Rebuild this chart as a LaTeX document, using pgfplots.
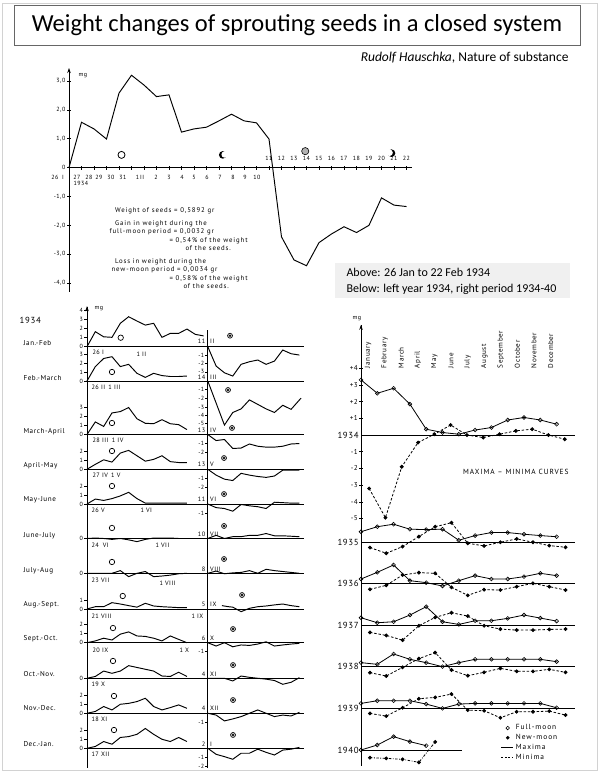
\documentclass[border=0pt]{standalone}
\usepackage{pgfplots}
\pgfplotsset{compat=1.18}
\usepackage{fontspec}
\setmainfont{Carlito}
\newfontfamily\scan[LetterSpace=8]{PT Sans}
\newfontfamily\scanw[LetterSpace=13]{PT Sans}
\usetikzlibrary{arrows.meta}
\newcommand\tl{\scan\fontsize{6}{7}\selectfont}
\newcommand\sm{\scanw\fontsize{6.8}{7.5}\selectfont}
\newcommand\rl{\scan\fontsize{7.1}{8}\selectfont}
\newcommand\nlbl{\scan\fontsize{6.3}{7}\selectfont}
\newcommand\lgdf{\scanw\fontsize{7.4}{8}\selectfont}
\newcommand\yr{\scan\fontsize{8.8}{9}\selectfont}
\pgfdeclareplotmark{crescL}{%
  \pgfpathcircle{\pgfpointorigin}{\pgfplotmarksize}\pgfusepathqfill
  \begin{pgfscope}\pgfsetfillcolor{white}%
  \pgfpathcircle{\pgfpoint{0.5\pgfplotmarksize}{0.1\pgfplotmarksize}}{0.85\pgfplotmarksize}\pgfusepathqfill
  \end{pgfscope}}
\pgfdeclareplotmark{crescR}{%
  \pgfpathcircle{\pgfpointorigin}{\pgfplotmarksize}\pgfusepathqfill
  \begin{pgfscope}\pgfsetfillcolor{white}%
  \pgfpathcircle{\pgfpoint{-0.5\pgfplotmarksize}{0.1\pgfplotmarksize}}{0.85\pgfplotmarksize}\pgfusepathqfill
  \end{pgfscope}}
\pgfplotsset{curve/.style={black, line width=0.95pt, mark=none},
  maxc/.style={black, line width=0.8pt, mark=o, mark size=1.9pt, mark options={solid, fill=white, line width=0.6pt}},
  minc/.style={black, line width=0.8pt, dash pattern=on 2.5pt off 1.8pt, mark=*, mark size=1.5pt, mark options={solid}}}
\newcommand\rt[2]{\draw[line width=0.6pt] (axis cs:14.5,#1) -- ++(-2.5pt,0pt) node[left,inner sep=0.8pt,font=\tl]{#2};}
\newcommand\hl[2]{\draw[line width=0.9pt] (axis cs:0,#1) -- (axis cs:#2,#1);}
\newcommand\mo[2]{\node[rotate=90, anchor=west, font=\rl, inner sep=0pt] at (axis cs:#1,4.0) {#2};}
\begin{document}
\begin{tikzpicture}
\begin{scope}[x=1pt,y=1pt]
\fill[white] (0,0) rectangle (600,776);
\draw[gray!35, line width=0.8pt] (2,6) rectangle (597,773);
% title
\draw[black!60, line width=0.6pt] (14,731) rectangle (580,771);
\node at (297,751) {\fontsize{24.5}{27}\selectfont Weight changes of sprouting seeds in a closed system};
\node[anchor=base east] at (572,714) {\fontsize{13.5}{16}\selectfont\textit{Rudolf Hauschka}, Nature of substance};
% grey note
\fill[gray!12] (335,478) rectangle (570,513);
\node[anchor=base west] at (343,499) {\fontsize{12}{14}\selectfont Above: 26 Jan to 22 Feb 1934};
\node[anchor=base west] at (343,483) {\fontsize{12}{14}\selectfont Below: left year 1934, right period 1934-40};
\end{scope}

% ================= TOP CHART =================
\begin{axis}[at={(69pt,484.3pt)}, anchor=south west, scale only axis,
  x=12.5pt, y=28.86pt, xmin=0, xmax=27.4, ymin=-4.3, ymax=3.35,
  axis x line*=middle, axis y line*=left, clip=false,
  xtick={0,...,27}, xticklabel=\empty,
  ytick={-4,-3,-2,-1,0,1,2,3},
  yticklabels={{-4,0},{-3,0},{-2,0},{-1,0},0,{1,0},{2,0},{3,0}},
  yticklabel style={font=\tl, inner sep=1.5pt},
  tick align=center, major tick length=4pt,
  axis line style={line width=0.8pt}, tick style={black, line width=0.7pt}]
\draw[-{Stealth[length=5pt,width=3.5pt]}, line width=0.8pt] (axis cs:0,3.0) -- (axis cs:0,3.45);
\addplot[curve] coordinates {(0,0)(1,1.57)(2,1.34)(3,0.99)(4,2.58)(5,3.2)(6,2.86)(7,2.46)(8,2.52)(9,1.23)(10,1.34)(11,1.4)(12,1.62)(13,1.85)(14,1.62)(15,1.55)(16,0.99)
  (17,-2.4)(18,-3.2)(19,-3.4)(20,-2.6)(21,-2.3)(22,-2.05)(23,-2.25)(24,-2.0)(25,-1.05)(26,-1.3)(27,-1.35)};
\addplot[only marks, mark=o, mark size=3.5pt, line width=0.8pt] coordinates {(4.2,0.44)};
\addplot[only marks, mark=crescL, mark size=3.8pt] coordinates {(12.3,0.44)};
\addplot[only marks, mark=*, mark size=3.6pt, mark options={fill=gray!60, draw=black, line width=0.6pt}] coordinates {(18.9,0.57)};
\addplot[only marks, mark=crescR, mark size=3.8pt] coordinates {(25.8,0.5)};
\end{axis}
\begin{scope}[x=1pt,y=1pt]
\node[anchor=west, font=\tl] at (75,700) {mg};
\begin{scope}[font=\tl]
\foreach \px/\t in {55/26,63/I,77/27,89/28,99/29,111/30,123/31,140/1\,II,156/2,169/3,182/4,194/5,207/6,220/7,233/8,245/9,257/10}
  \node at (\px,598.5) {\t};
\foreach \j/\t in {0/11,1/12,2/13,3/14,4/15,5/16,6/17,7/18,8/19,9/20,10/21,11/22}
  \node at (269+12.5*\j,618) {\t};
\node[anchor=west] at (70,592.5) {1934};
\end{scope}
\begin{scope}[font=\sm]
\node[anchor=base west] at (111.5,563) {Weight of seeds = 0,5892 gr};
\node[anchor=base west] at (111.5,550) {Gain in weight during the};
\node[anchor=base west] at (106,542) {full-moon period = 0,0032 gr};
\node[anchor=base west] at (166,533.5) {= 0,54\,\% of the weight};
\node[anchor=base west] at (182,525) {of the seeds.};
\node[anchor=base west] at (111.5,512) {Loss in weight during the};
\node[anchor=base west] at (108,504) {new-moon period = 0,0034 gr};
\node[anchor=base west] at (166,495.5) {= 0,58\,\% of the weight};
\node[anchor=base west] at (180,487) {of the seeds.};
\end{scope}
\end{scope}

% ================= LEFT PANEL (1934) =================
\begin{axis}[at={(87pt,8.1pt)}, anchor=south west, scale only axis,
  x=8.33pt, y=9pt, xmin=0, xmax=26, ymin=-46.8, ymax=4.4,
  axis x line=none, axis y line*=left, clip=false,
  ytick={0,1,2,3,4,-3.81,-2.81,-1.81,-0.81,-9.76,-8.76,-7.76,-6.76,-13.62,-12.62,-11.62,-17.48,-16.48,-15.48,-21.31,-25.18,-29.14,-28.14,-32.89,-31.89,-30.89,-36.84,-40.73,-39.73,-38.73,-44.62,-43.62,-42.62},
  yticklabels={0,1,2,3,4,0,1,2,3,0,1,2,3,0,1,2,0,1,2,0,0,0,1,0,1,2,0,0,1,2,0,1,2},
  yticklabel style={font=\tl, inner sep=1pt},
  tick align=outside, major tick length=3pt,
  axis line style={line width=0.8pt}, tick style={black, line width=0.6pt}]
\draw[-{Stealth[length=5pt,width=3.5pt]}, line width=0.8pt] (axis cs:0,3.5) -- (axis cs:0,4.5);
\hl{0}{26}\hl{-3.81}{26}\hl{-9.76}{26}\hl{-13.62}{26}\hl{-17.48}{26}\hl{-21.31}{26}
\hl{-25.18}{26}\hl{-29.14}{26}\hl{-32.89}{26}\hl{-36.84}{26}\hl{-40.73}{26}\hl{-44.62}{26}
\draw[line width=0.8pt] (axis cs:14.5,1.8) -- (axis cs:14.5,-46.8);
% right-half ticks
\rt{-0.95}{-1}\rt{-1.9}{-2}\rt{-2.8}{-3}
\rt{-4.77}{-1}\rt{-5.74}{-2}\rt{-6.70}{-3}\rt{-7.66}{-4}\rt{-8.55}{-5}
\rt{-10.76}{-1}\rt{-11.76}{-2}
\rt{-14.62}{-1}\rt{-15.62}{-2}
\rt{-18.48}{-1}
\rt{-33.89}{-1}
\rt{-41.73}{-1}
\rt{-45.62}{-1}\rt{-46.62}{-2}
% left halves (full-moon periods)
\addplot[curve] table[x expr=\coordindex, y expr=\thisrow{v}, row sep=\\]{v\\0\\1.67\\1.1\\1.04\\2.6\\3.33\\2.85\\2.4\\2.6\\1.04\\1.48\\1.48\\1.96\\1.37\\1.2\\};
\addplot[curve] table[x expr=\coordindex, y expr=\thisrow{v}-3.81, row sep=\\]{v\\0\\1.6\\2.5\\2.7\\1.6\\1.85\\0.85\\0.4\\0.85\\0.6\\0.5\\0.5\\0.55\\};
\addplot[curve] table[x expr=\coordindex, y expr=\thisrow{v}-9.76, row sep=\\]{v\\0\\1.4\\0.9\\2.4\\2.55\\3.0\\1.75\\1.25\\1.2\\1.65\\1.2\\1.1\\0.55\\};
\addplot[curve] table[x expr=\coordindex, y expr=\thisrow{v}-13.62, row sep=\\]{v\\0\\0.55\\1.05\\0.8\\1.8\\2.1\\1.5\\0.9\\1.1\\1.5\\0.85\\0.75\\0.75\\};
\addplot[curve] table[x expr=\coordindex, y expr=\thisrow{v}-17.48, row sep=\\]{v\\0\\0.55\\0.4\\0.6\\0.9\\1.3\\0.6\\0.1\\0.1\\0.1\\0.1\\0.1\\0.1\\};
\addplot[curve] table[x expr=\coordindex, y expr=\thisrow{v}-21.31, row sep=\\]{v\\0\\0.05\\0\\-0.1\\0\\-0.15\\-0.35\\-0.1\\0.05\\0.05\\0.05\\0\\0\\};
\addplot[curve] table[x expr=\coordindex, y expr=\thisrow{v}-25.18, row sep=\\]{v\\0\\0\\0\\0\\0.3\\-0.37\\0\\0.2\\-0.37\\-0.3\\-0.2\\-0.05\\0\\};
\addplot[curve] table[x expr=\coordindex, y expr=\thisrow{v}-29.14, row sep=\\]{v\\0\\0.25\\0.25\\0.7\\0.55\\0.37\\0.2\\0.63\\0.33\\0.25\\0.2\\0.15\\0.15\\};
\addplot[curve] table[x expr=\coordindex, y expr=\thisrow{v}-32.89, row sep=\\]{v\\0\\0.2\\0.5\\0.3\\0.95\\1.2\\0.75\\0.7\\0.5\\0.2\\0.75\\0.37\\0\\};
\addplot[curve] table[x expr=\coordindex, y expr=\thisrow{v}-36.84, row sep=\\]{v\\0\\0.2\\0.8\\0.55\\0.8\\1.4\\1.2\\1.0\\0.8\\0.25\\0.2\\0.67\\0.2\\};
\addplot[curve] table[x expr=\coordindex, y expr=\thisrow{v}-40.73, row sep=\\]{v\\0\\0.2\\0.75\\0.37\\1.0\\1.1\\1.3\\1.67\\0.75\\0.37\\0.63\\0.93\\0.55\\};
\addplot[curve] table[x expr=\coordindex, y expr=\thisrow{v}-44.62, row sep=\\]{v\\0\\0.2\\0.75\\0.45\\1.2\\1.3\\1.55\\2.2\\1.55\\1.0\\0.75\\1.2\\0.75\\};
% right halves (new-moon periods)
\addplot[curve] table[x expr=\coordindex+14.5, y expr=\thisrow{v}, row sep=\\]{v\\0\\-2.15\\-2.9\\-3.26\\-1.96\\-1.67\\-1.48\\-1.96\\-1.6\\-0.37\\-0.78\\-0.93\\};
\addplot[curve] table[x expr=\thisrow{d}+14.5, y expr=\thisrow{v}-3.81, row sep=\\]{d v\\0 0\\2 -4.9\\3 -3.5\\4 -3.1\\5 -2.1\\6 -2.6\\7 -3.1\\8 -3.5\\9 -2.7\\10 -3.15\\11.2 -1.9\\};
\addplot[curve] table[x expr=\coordindex+14.5, y expr=\thisrow{v}-9.76, row sep=\\]{v\\0\\-0.67\\-0.55\\-1.55\\-1.5\\-1.05\\-1.3\\-1.4\\-1.4\\-1.3\\-1.05\\-1.0\\};
\addplot[curve] table[x expr=\coordindex+14.5, y expr=\thisrow{v}-13.62, row sep=\\]{v\\0\\-0.65\\-1.1\\-1.25\\-0.45\\-0.65\\-0.8\\-0.9\\-0.75\\-0.1\\-0.1\\-0.1\\};
\addplot[curve] table[x expr=\coordindex+14.5, y expr=\thisrow{v}-17.48, row sep=\\]{v\\0\\-0.4\\-0.5\\-0.8\\-0.05\\-0.2\\-0.3\\-0.5\\0.2\\0.15\\0.1\\0.1\\};
\addplot[curve] table[x expr=\coordindex+14.5, y expr=\thisrow{v}-21.31, row sep=\\]{v\\0\\0.35\\0\\0.2\\0.2\\0.35\\0.35\\0.55\\0.3\\0.3\\0.25\\0.2\\};
\addplot[curve] table[x expr=\coordindex+14.5, y expr=\thisrow{v}-25.18, row sep=\\]{v\\0\\0.25\\-0.05\\0.05\\0.1\\0.3\\0\\0.45\\0.3\\0.2\\0.1\\0\\};
\addplot[curve] table[x expr=\thisrow{d}+14.5, y expr=\thisrow{v}-29.14, row sep=\\]{d v\\1.7 0.37\\2.5 0.25\\3 0.2\\4 -0.3\\5 0.07\\6 0.25\\7 0.33\\8 0.45\\9 0.55\\10 0.37\\11 0.25\\};
\addplot[curve] table[x expr=\coordindex+14.5, y expr=\thisrow{v}-32.89, row sep=\\]{v\\0\\-0.37\\0\\-0.45\\-0.25\\-0.3\\-0.15\\0.1\\-0.37\\-0.25\\-0.15\\-0.07\\};
\addplot[curve] table[x expr=\coordindex+14.5, y expr=\thisrow{v}-36.84, row sep=\\]{v\\0\\0\\0\\-0.3\\0.25\\0.1\\0\\-0.1\\-0.25\\-0.67\\-0.45\\0.07\\};
\addplot[curve] table[x expr=\coordindex+14.5, y expr=\thisrow{v}-40.73, row sep=\\]{v\\0\\-0.2\\-0.85\\-0.63\\-0.37\\0\\0.37\\0\\-0.37\\-0.2\\-0.3\\0.1\\};
\addplot[curve] table[x expr=\coordindex+14.5, y expr=\thisrow{v}-44.62, row sep=\\]{v\\0\\-0.67\\-0.93\\-1.22\\-0.55\\-0.55\\-0.1\\-0.45\\-0.75\\-0.2\\-0.1\\0.1\\};
% moon symbols
\addplot[only marks, mark=o, mark size=2.7pt, line width=0.7pt] coordinates {(4.05,1.0)(3,-2.81)(3,-8.48)(3,-11.59)(3,-15.48)(3,-20.14)(3,-23.92)(4.29,-27.7)(3.12,-31.26)(3.12,-34.92)(3.24,-38.81)(3.24,-42.59)};
\addplot[only marks, mark=*, mark size=2.5pt, mark options={fill=gray!45, draw=black, line width=0.6pt}] coordinates {(17.17,1.22)(16.93,-4.81)(17.41,-9.03)(16.45,-12.37)(16.45,-16.37)(16.45,-19.92)(16.45,-23.59)(18.61,-27.59)(17.53,-31.37)(17.53,-35.37)(17.53,-39.26)(17.53,-43.14)};
\addplot[only marks, mark=*, mark size=0.8pt] coordinates {(17.17,1.22)(16.93,-4.81)(17.41,-9.03)(16.45,-12.37)(16.45,-16.37)(16.45,-19.92)(16.45,-23.59)(18.61,-27.59)(17.53,-31.37)(17.53,-35.37)(17.53,-39.26)(17.53,-43.14)};
\end{axis}
\begin{scope}[x=1pt,y=1pt]
\node[anchor=west, font=\tl] at (91,467) {mg};
\node[anchor=west, font=\yr] at (16,456) {1934};
\begin{scope}[font=\rl]
\foreach \yy/\t in {433.3/Jan.-Feb,398/Feb.-March,344/March-April,310/April-May,276/May-June,240/June-July,205.3/July-Aug,171/Aug.-Sept.,137/Sept.-Oct.,102/Oct.-Nov.,68/Nov.-Dec.,32/Dec.-Jan.}
  \node[anchor=west] at (20,\yy) {\t};
\end{scope}
\begin{scope}[font=\nlbl]
\node[anchor=west] at (89,423.3) {26 I};
\node[anchor=west] at (133,422) {1 II};
\node[anchor=west] at (88,389) {26 II \,1 III};
\node[anchor=west] at (89,336) {28 III \,1 IV};
\node[anchor=west] at (89,301) {27 IV \,1 V};
\node[anchor=west] at (88,266) {26 V};
\node[anchor=west] at (137,266) {1 VI};
\node[anchor=west] at (88,230.3) {24 \;VI};
\node[anchor=west] at (152,230.3) {1 VII};
\node[anchor=west] at (88,195.3) {23 VII};
\node[anchor=west] at (156,193) {1 VIII};
\node[anchor=west] at (88,160) {21 VIII};
\node[anchor=west] at (188,160) {1 IX};
\node[anchor=west] at (89,126) {20 IX};
\node[anchor=west] at (176,125.3) {1 X};
\node[anchor=west] at (88,92) {19 X};
\node[anchor=west] at (88,57) {18 XI};
\node[anchor=west] at (88,22) {17 XII};
\foreach \yy/\n/\r in {435/11/II,398.3/14/III,345.3/13/IV,312/13/V,277/11/VI,242/10/VII,207/8/VIII,172/5/IX,138/6/X,102/4/XI,68/4/XII,32/2/I}
 {\node[anchor=east, inner sep=0.5pt] at (206,\yy) {\n};
  \node[anchor=west, inner sep=0.5pt] at (209.5,\yy) {\r};}
\end{scope}
\end{scope}

% ================= RIGHT PANEL (1934-40) =================
\begin{axis}[at={(361pt,10.3pt)}, anchor=south west, scale only axis,
  x=16.3pt, y=16.7pt, xmin=0, xmax=13.1, ymin=-19.8, ymax=6.6,
  axis x line=none, axis y line*=left, clip=false,
  ytick={4,3,2,1,-1,-2,-3,-4,-5},
  yticklabels={+4,+3,+2,+1,-1,-2,-3,-4,-5},
  yticklabel style={font=\rl, inner sep=1pt},
  extra y ticks={0,-6.42,-8.88,-11.42,-13.87,-16.37,-18.86},
  extra y tick labels={1934,1935,1936,1937,1938,1939,1940},
  extra y tick style={yticklabel style={font=\yr, inner sep=2pt}, major tick length=0pt},
  tick align=center, major tick length=4pt,
  axis line style={line width=0.8pt}, tick style={black, line width=0.6pt},
  legend style={at={(0.655,0.098)}, anchor=north west, draw=none, fill=none, font=\lgdf, inner sep=0pt, row sep=-1pt, legend cell align=left},
  ]
\draw[-{Stealth[length=5pt,width=3.5pt]}, line width=0.8pt] (axis cs:0,5.5) -- (axis cs:0,6.6);
\hl{0}{13.1}\hl{-6.42}{13.1}\hl{-8.88}{13.1}\hl{-11.42}{13.1}\hl{-13.87}{13.1}\hl{-16.37}{13.1}\hl{-18.86}{6.2}
\node[font=\tl] at (axis cs:-0.25,7.0) {mg};
\node[font=\lgdf] at (axis cs:9.5,-2.2) {MAXIMA – MINIMA  CURVES};
\mo{0.43}{January}\mo{1.45}{February}\mo{2.47}{March}\mo{3.48}{April}\mo{4.50}{May}\mo{5.52}{June}
\mo{6.54}{July}\mo{7.56}{August}\mo{8.58}{September}\mo{9.60}{October}\mo{10.61}{November}\mo{11.63}{December}
% 1934
\addplot[maxc, forget plot] table[x expr=\coordindex, y expr=\thisrow{v}, row sep=\\]{v\\3.3\\2.5\\2.8\\1.85\\0.35\\0.15\\0.05\\0.3\\0.45\\0.9\\1.05\\0.9\\0.65\\};
\addplot[minc, forget plot] table[x expr=\coordindex+0.5, y expr=\thisrow{v}, row sep=\\]{v\\-3.2\\-4.95\\-1.9\\-0.45\\0.05\\0.6\\0\\-0.15\\0.05\\0.25\\0.35\\0\\-0.25\\};
% 1935
\addplot[maxc, forget plot] table[x expr=\coordindex, y expr=\thisrow{v}-6.42, row sep=\\]{v\\0.63\\0.93\\1.08\\0.78\\0.76\\0.78\\0.12\\0.4\\0.58\\0.58\\0.48\\0.4\\0.33\\};
\addplot[minc, forget plot] table[x expr=\coordindex+0.55, y expr=\thisrow{v}-6.42, row sep=\\]{v\\-0.32\\-0.66\\-0.26\\0.34\\0.93\\1.17\\-0.06\\-0.22\\0\\0.2\\0\\-0.2\\-0.3\\};
% 1936
\addplot[maxc, forget plot] table[x expr=\coordindex, y expr=\thisrow{v}-8.88, row sep=\\]{v\\0.26\\0.66\\1.1\\0.16\\0.04\\-0.16\\0.16\\0.46\\0.26\\0.26\\0.4\\0.6\\0.46\\};
\addplot[minc, forget plot] table[x expr=\coordindex+0.55, y expr=\thisrow{v}-8.88, row sep=\\]{v\\-0.36\\-0.12\\0.5\\0.64\\0.6\\-0.24\\-0.72\\-0.38\\-0.4\\-0.2\\0\\-0.2\\-0.4\\};
% 1937
\addplot[maxc, forget plot] table[x expr=\coordindex, y expr=\thisrow{v}-11.42, row sep=\\]{v\\0.48\\0.18\\0.24\\0.64\\1.14\\0.24\\0.08\\0.3\\0.3\\0.44\\0.64\\0.46\\0.28\\};
\addplot[minc, forget plot] table[x expr=\coordindex+0.55, y expr=\thisrow{v}-11.42, row sep=\\]{v\\-0.4\\-0.58\\-0.86\\0\\0.5\\0.78\\0.58\\0\\-0.2\\-0.26\\-0.26\\-0.22\\-0.2\\};
% 1938
\addplot[maxc, forget plot] table[x expr=\coordindex, y expr=\thisrow{v}-13.87, row sep=\\]{v\\0.24\\0.14\\0.76\\0.44\\0.24\\0\\0.24\\0.44\\0.44\\0.44\\0.44\\0.44\\0.3\\};
\addplot[minc, forget plot] table[x expr=\coordindex+0.55, y expr=\thisrow{v}-13.87, row sep=\\]{v\\-0.36\\-0.56\\-0.04\\0.48\\0.84\\-0.2\\-0.54\\-0.34\\-0.1\\-0.28\\-0.28\\-0.16\\-0.34\\};
% 1939
\addplot[maxc, forget plot] table[x expr=\coordindex, y expr=\thisrow{v}-16.37, row sep=\\]{v\\0.3\\0.46\\0.46\\0.46\\0.26\\0\\0.26\\0.3\\0.3\\0.3\\0.3\\0.3\\0.04\\};
\addplot[minc, forget plot] table[x expr=\coordindex+0.55, y expr=\thisrow{v}-16.37, row sep=\\]{v\\-0.3\\-0.46\\0.04\\0.58\\0.66\\0.86\\-0.1\\-0.14\\-0.56\\-0.2\\-0.2\\-0.16\\-0.4\\};
% 1940
\addplot[maxc, forget plot] table[x expr=\coordindex, y expr=\thisrow{v}-18.86, row sep=\\]{v\\0\\0.3\\0.8\\0.5\\0.26\\};
\addplot[minc, forget plot, dash pattern=on 2.5pt off 1.5pt on 0.8pt off 1.5pt] table[x expr=\coordindex+0.55, y expr=\thisrow{v}-18.86, row sep=\\]{v\\-0.46\\-0.5\\-0.56\\-0.74\\0.48\\};
\addlegendimage{legend image code/.code={\draw[black, line width=0.6pt, fill=white] (0.22cm,0cm) circle (1.8pt);}}
\addlegendentry{Full-moon}
\addlegendimage{legend image code/.code={\fill[black] (0.22cm,0cm) circle (1.6pt);}}
\addlegendentry{New-moon}
\addlegendimage{legend image code/.code={\draw[black, line width=0.8pt] (0cm,0cm) -- (0.42cm,0cm);}}
\addlegendentry{Maxima}
\addlegendimage{legend image code/.code={\draw[black, line width=0.8pt, dash pattern=on 2pt off 1.5pt] (0cm,0cm) -- (0.42cm,0cm);}}
\addlegendentry{Minima}
\end{axis}
\pgfresetboundingbox
\path[use as bounding box] (0pt,0pt) rectangle (600pt,776pt);
\end{tikzpicture}
\end{document}
